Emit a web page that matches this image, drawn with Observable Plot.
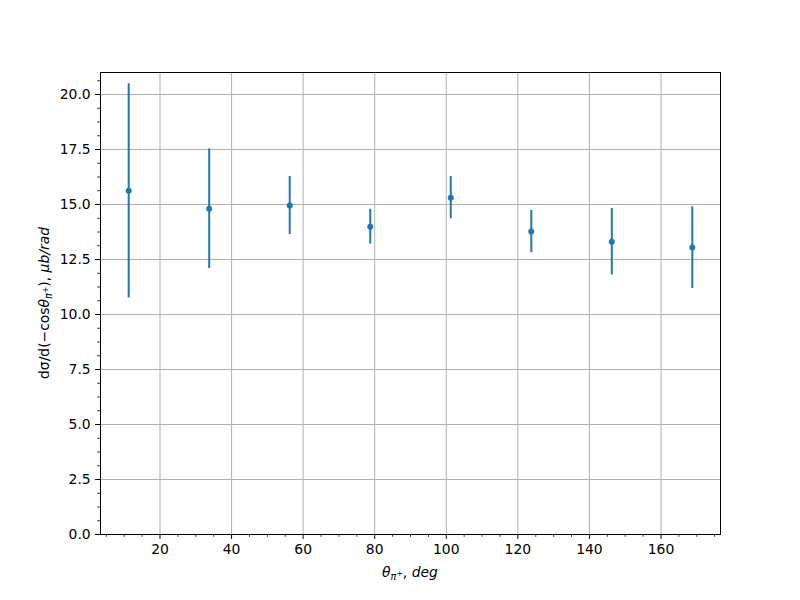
<!DOCTYPE html>
<html>
<head>
<meta charset="utf-8">
<script src="https://cdn.jsdelivr.net/npm/d3@7"></script>
<script src="https://cdn.jsdelivr.net/npm/@observablehq/plot@0.6"></script>
<style>
  html, body { margin: 0; padding: 0; background: #fff; }
  svg { display: block; }
</style>
</head>
<body>
<div id="chart"></div>
<script>
// Data
const angles = [11.25, 33.75, 56.25, 78.75, 101.25, 123.75, 146.25, 168.75];
const values = [15.62, 14.81, 14.95, 13.99, 15.31, 13.77, 13.31, 13.04];
const errors = [4.87, 2.72, 1.32, 0.79, 0.96, 0.96, 1.51, 1.86];
const xTicks = [20, 40, 60, 80, 100, 120, 140, 160];
const xMinorTicks = d3.range(5, 176, 5).filter(v => v % 20 !== 0);
const yTicks = d3.range(0, 20.01, 2.5);
const yMinorTicks = d3.range(0, 21, 0.625).filter(v => Math.abs(v / 2.5 - Math.round(v / 2.5)) > 1e-6);

const data = angles.map((a, i) => ({x: a, y: values[i], lo: values[i] - errors[i], hi: values[i] + errors[i]}));
const blue = "#1f77b4";
const fs = 13.9;

const plot = Plot.plot({
  width: 800,
  height: 600,
  marginLeft: 100,
  marginRight: 80,
  marginTop: 72,
  marginBottom: 66,
  style: {fontFamily: "DejaVu Sans", fontSize: fs + "px", background: "#fff", color: "#000"},
  x: {domain: [3.375, 176.625]},
  y: {domain: [0, 21]},
  marks: [
    Plot.gridX(xTicks, {stroke: "#b0b0b0", strokeOpacity: 1, strokeWidth: 1}),
    Plot.gridY(yTicks, {stroke: "#b0b0b0", strokeOpacity: 1, strokeWidth: 1}),
    Plot.axisX(xTicks, {tickSize: 4.9, tickPadding: 4.9, label: null, fontSize: fs, tickFormat: d => String(d), strokeWidth: 1}),
    Plot.axisX(xMinorTicks, {tickSize: 2.8, label: null, tickFormat: () => "", strokeWidth: 0.8}),
    Plot.axisY(yTicks, {tickSize: 4.9, tickPadding: 4.9, label: null, fontSize: fs, tickFormat: d3.format(".1f"), strokeWidth: 1}),
    Plot.axisY(yMinorTicks, {tickSize: 2.8, label: null, tickFormat: () => "", strokeWidth: 0.8}),
    Plot.ruleX(data, {x: "x", y1: "lo", y2: "hi", stroke: blue, strokeWidth: 2}),
    Plot.dot(data, {x: "x", y: "y", r: 3, fill: blue, stroke: "none"}),
    Plot.frame({stroke: "#000", strokeWidth: 1})
  ]
});

document.getElementById("chart").appendChild(plot);

// Axis labels with mathtext-like styling
const svg = d3.select(plot);
const xl = svg.append("text")
  .attr("x", 410).attr("y", 577)
  .attr("text-anchor", "middle")
  .attr("font-family", "DejaVu Sans")
  .attr("font-size", fs)
  .attr("fill", "#000");
xl.append("tspan").attr("font-style", "italic").text("θ");
xl.append("tspan").attr("font-style", "italic").attr("font-size", fs * 0.7).attr("dy", 3).text("π");
xl.append("tspan").attr("font-size", fs * 0.55).attr("dy", -4).text("+");
xl.append("tspan").attr("dy", 1).text(", ");
xl.append("tspan").attr("font-style", "italic").text("deg");

const yl = svg.append("text")
  .attr("transform", "translate(49,303) rotate(-90)")
  .attr("text-anchor", "middle")
  .attr("font-family", "DejaVu Sans")
  .attr("font-size", fs)
  .attr("fill", "#000");
yl.append("tspan").text("dσ/d(−cos");
yl.append("tspan").attr("font-style", "italic").text("θ");
yl.append("tspan").attr("font-style", "italic").attr("font-size", fs * 0.7).attr("dy", 3).text("π");
yl.append("tspan").attr("font-size", fs * 0.55).attr("dy", -4).text("+");
yl.append("tspan").attr("dy", 1).text("), ");
yl.append("tspan").attr("font-style", "italic").text("μb/rad");
</script>
</body>
</html>
